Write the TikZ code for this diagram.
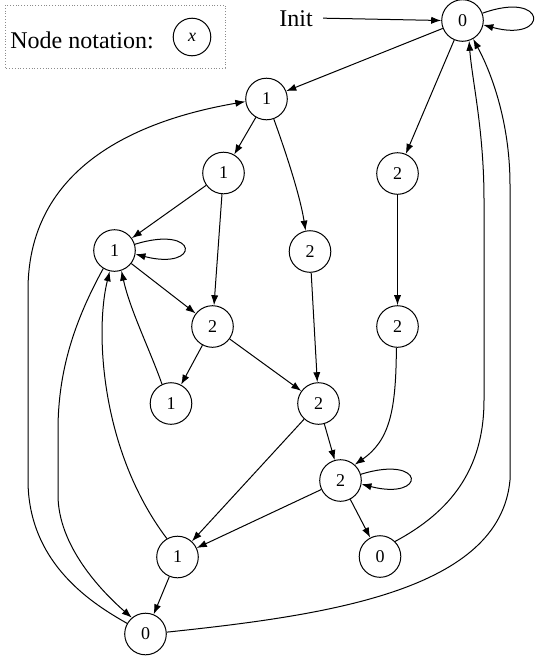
\documentclass[tikz,border=0pt]{standalone}
\usepackage{fontspec}
\setmainfont{Liberation Serif}
\usetikzlibrary{arrows.meta}
\begin{document}
\begin{tikzpicture}[x=0.5pt,y=-0.5pt,
  st/.style={circle,draw,line width=0.5pt,minimum size=20.8pt,inner sep=0pt,
    font=\fontsize{9}{10}\selectfont},
  edge/.style={line width=0.5pt,-{Latex[length=5pt,width=3.6pt]}},
  lbl/.style={inner sep=0pt,font=\fontsize{12}{14}\selectfont}]
\useasboundingbox (0,0) rectangle (535,659);

% legend
\draw[gray!90,line width=0.5pt,dash pattern=on 0.5pt off 0.9pt] (5,5) rectangle (225,68);
\node[lbl,anchor=base west] (legend) at (10,48) {Node notation:};
\node[st,minimum size=18.8pt] (lx) at (192,37) {\textit{x}};

% states
\node[st] (n0) at (462.5,20.5) {0};
\node[st] (a) at (266.5,99) {1};
\node[st] (b) at (397.5,173.5) {2};
\node[st] (c) at (223.5,173) {1};
\node[st] (d) at (310,251.5) {2};
\node[st] (e) at (114.5,250.5) {1};
\node[st] (f) at (212.5,326.5) {2};
\node[st] (g) at (397.5,326.5) {2};
\node[st] (h) at (171,403.5) {1};
\node[st] (i) at (318.5,403.5) {2};
\node[st] (j) at (340.5,480.5) {2};
\node[st] (k) at (380,556.5) {0};
\node[st] (l) at (177.5,557) {1};
\node[st] (m) at (145.5,634) {0};

% initial arrow
\node[lbl,anchor=base west] (init) at (279,26) {Init};
\draw[edge] ([xshift=5pt]init.east) -- (n0.west);

% transitions
\draw[edge] (n0.20) .. controls (548,-10.5) and (550,43) .. (n0.-12);
\draw[edge] (n0) -- (a);
\draw[edge] (n0) -- (b);
\draw[edge] (a) -- (c);
\draw[edge] (a.-70) .. controls (285,150) and (300,195) .. (d.102);
\draw[edge] (c) -- (e);
\draw[edge] (c) -- (f);
\draw[edge] (e.17) .. controls (200,224) and (201,271) .. (e.-10);
\draw[edge] (e) -- (f);
\draw[edge] (f) -- (h);
\draw[edge] (f) -- (i);
\draw[edge] (h.115) .. controls (150,350) and (130,310) .. (e.-71);
\draw[edge] (l.120) .. controls (100,450) and (95,330) .. (e.-103);
\draw[edge] (e.-122) .. controls (75,320) and (58,370) .. (58,430) -- (58,495)
  .. controls (58,545) and (100,590) .. (m.130);
\draw[edge] (m.150) .. controls (95,605) and (28,565) .. (28,480) -- (28,290)
  .. controls (28,160) and (150,118) .. (a.-173);
\draw[edge] (d) -- (i);
\draw[edge] (b) -- (g);
\draw[edge] (g.-93) .. controls (396,410) and (390,440) .. (j.48);
\draw[edge] (i) -- (j);
\draw[edge] (i) -- (l);
\draw[edge] (j.17) .. controls (426,454) and (427,501) .. (j.-10);
\draw[edge] (j) -- (l);
\draw[edge] (j) -- (k);
\draw[edge] (l) -- (m);
\draw[edge] (k.45) .. controls (450,512) and (484,470) .. (484,400) -- (484,200)
  .. controls (484,130) and (472,80) .. (n0.-72);
\draw[edge] (m.5) .. controls (330,615) and (500,590) .. (510,480) -- (510,185)
  .. controls (510,120) and (490,70) .. (n0.-60);
\end{tikzpicture}
\end{document}
